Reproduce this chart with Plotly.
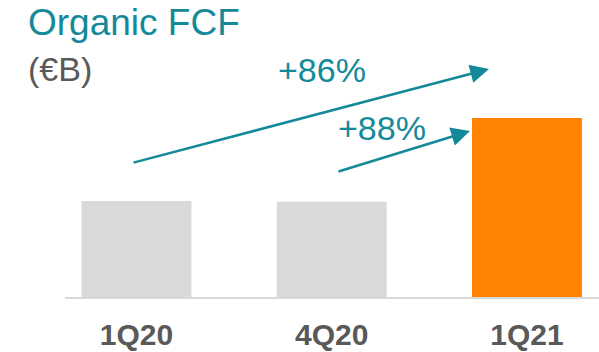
import plotly.graph_objects as go

# Organic free cash flow by quarter, in EUR billions
quarters = ["1Q20", "4Q20", "1Q21"]
organic_fcf = [0.51, 0.505, 0.95]
bar_colors = ["#D9D9D9", "#D9D9D9", "#FF8200"]

TEAL = "#14899A"
GREY_TXT = "#595959"
FONT = "Arial, Liberation Sans, sans-serif"

W, H = 599, 352
ML, MR, MT, MB = 65, 0, 0, 55
PW, PH = W - ML - MR, H - MT - MB


def px_x(px):
    return (px - ML) / PW


def px_y(py):
    return (H - MB - py) / PH


fig = go.Figure(
    go.Bar(
        x=quarters,
        y=organic_fcf,
        marker=dict(color=bar_colors, line=dict(width=0)),
        width=0.563,
        hoverinfo="skip",
    )
)

# growth of the latest quarter versus year-ago and previous quarter
yoy = organic_fcf[2] / organic_fcf[0] - 1
qoq = organic_fcf[2] / organic_fcf[1] - 1

annotations = [
    dict(text="Organic FCF", x=px_x(26), y=px_y(22), xanchor="left", yanchor="middle",
         font=dict(size=37, color=TEAL, family=FONT)),
    dict(text="(€B)", x=px_x(26), y=px_y(69), xanchor="left", yanchor="middle",
         font=dict(size=34, color=GREY_TXT, family=FONT)),
    dict(text=f"+{yoy:.0%}", x=px_x(322), y=px_y(70), xanchor="center", yanchor="middle",
         font=dict(size=34, color=TEAL, family=FONT)),
    dict(text=f"+{qoq:.0%}", x=px_x(382), y=px_y(128), xanchor="center", yanchor="middle",
         font=dict(size=34, color=TEAL, family=FONT)),
    # growth arrows
    dict(text="", x=px_x(489), y=px_y(69), ax=132 - 489, ay=163 - 69,
         showarrow=True, arrowhead=2, arrowsize=1.5, arrowwidth=2.5, arrowcolor=TEAL, standoff=0),
    dict(text="", x=px_x(470), y=px_y(131), ax=337 - 470, ay=172 - 131,
         showarrow=True, arrowhead=2, arrowsize=1.5, arrowwidth=2.5, arrowcolor=TEAL, standoff=0),
]
for a in annotations:
    a.setdefault("xref", "paper")
    a.setdefault("yref", "paper")
    a.setdefault("showarrow", False)

fig.update_layout(
    width=W,
    height=H,
    margin=dict(l=ML, r=MR, t=MT, b=MB, pad=0),
    paper_bgcolor="white",
    plot_bgcolor="white",
    showlegend=False,
    annotations=annotations,
    xaxis=dict(
        range=[-0.366, 2.369],
        showline=True,
        linecolor="#D9D9D9",
        linewidth=2,
        showgrid=False,
        zeroline=False,
        ticks="",
        ticklabelstandoff=10,
        tickfont=dict(size=30, color=GREY_TXT, family=FONT, weight="bold"),
        fixedrange=True,
    ),
    yaxis=dict(
        range=[0, 1.576],
        visible=False,
        showgrid=False,
        zeroline=False,
        fixedrange=True,
    ),
)

fig.write_html("out.html", config={"displayModeBar": False})
